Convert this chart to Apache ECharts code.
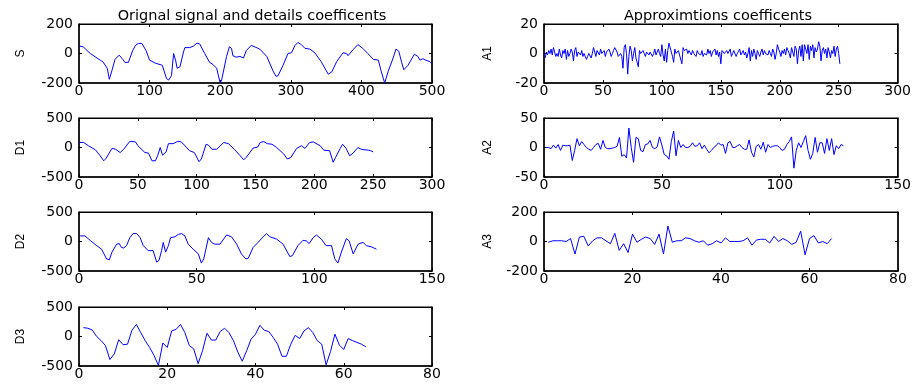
<!DOCTYPE html>
<html><head><meta charset="utf-8">
<script src="https://cdn.jsdelivr.net/npm/echarts@6/dist/echarts.min.js"></script>
<style>html,body{margin:0;padding:0;background:#fff}#c{width:914px;height:384px}</style>
</head><body><div id="c"></div>
<script>
// ---- Data ----
const titleLeft = 'Orignal signal and details coefficents';
const titleRight = 'Approximtions coefficents';
const panelNames = ['S','D1','D2','D3','A1','A2','A3'];
const xMaxes = [500,300,150,80,300,150,80];
const xIntervals = [100,50,50,20,50,50,20];
const yRanges = [[-200,200],[-500,500],[-500,500],[-500,500],[-20,20],[-50,50],[-200,200]];
const yIntervals = [200,500,500,500,20,50,200];

// Original signal S : [sample, value]
const sPts = [[1,50],[6,45],[16,0],[30,-45],[34,-57],[40,-100],[43,-175],[47,-110],[51,-40],[57,-11],[62,-40],[65,-60],[70,-60],[76,20],[80,55],[84,68],[89,68],[95,20],[100,-45],[108,-65],[118,-80],[124,-170],[127,-180],[131,-150],[134,0],[137,-50],[139,-100],[143,-90],[148,10],[150,40],[157,40],[162,50],[167,70],[171,65],[178,0],[185,-60],[190,-75],[195,-100],[200,-200],[202,-180],[209,-20],[213,45],[216,35],[218,-15],[223,-25],[228,-20],[233,-30],[237,20],[244,55],[249,45],[256,30],[266,-20],[275,-120],[279,-155],[282,-150],[289,-80],[296,0],[301,5],[306,55],[310,75],[315,60],[320,35],[327,30],[334,5],[343,-55],[353,-140],[358,-125],[365,-55],[374,5],[379,0],[381,-15],[388,25],[395,60],[402,35],[409,0],[417,-40],[424,-45],[428,-120],[433,-200],[438,-120],[445,-30],[449,30],[453,15],[457,-60],[460,-110],[466,-80],[475,-5],[480,-20],[483,-45],[487,-35],[491,-45],[497,-55],[500,-70]];

// Detail D1 : [sample, value]
const d1Pts = [[0,85],[4,85],[8,30],[14,-40],[18,-140],[21,-225],[23,-185],[28,-15],[31,-30],[35,-85],[38,-30],[43,100],[46,100],[48,95],[50,30],[56,-85],[59,-95],[62,-225],[65,-225],[67,-130],[69,0],[71,-130],[74,-75],[76,65],[80,65],[84,105],[87,95],[94,-55],[98,-85],[102,-240],[104,-195],[108,55],[110,40],[113,-30],[117,-30],[123,85],[127,65],[132,-30],[137,-140],[140,-210],[142,-170],[148,-10],[152,10],[154,85],[157,100],[160,65],[164,55],[168,0],[174,-110],[177,-195],[180,-170],[185,-15],[189,30],[192,-15],[196,85],[199,95],[205,30],[208,-45],[213,-55],[216,-250],[218,-170],[222,-15],[224,55],[227,-15],[230,-140],[233,-95],[237,0],[240,-30],[243,-40],[246,-45],[248,-55],[250,-75]];

// Detail D2 : [sample, value]
const d2Pts = [[0.5,95],[2.5,95],[5,10],[7.5,-70],[9.6,-130],[11.7,-295],[12.9,-310],[14,-180],[16,-45],[17.1,-35],[18,-100],[19,-110],[20.2,-70],[21.6,65],[23,135],[24.5,135],[26,65],[27.3,-70],[29.4,-155],[31.5,-155],[33,-350],[34,-320],[35.1,-155],[35.8,-15],[36.8,-180],[38,-70],[38.9,65],[40.8,80],[42.2,120],[43.6,135],[45,95],[46.4,-45],[48.5,-130],[50.7,-210],[52,-365],[53,-295],[55,65],[56.3,-15],[57.7,-45],[59.9,-45],[62.7,110],[64.8,80],[67,-45],[69,-210],[70.9,-295],[71.9,-285],[74,-100],[76.1,-15],[78.3,80],[79.7,135],[81.1,80],[84,40],[86.7,-45],[89.6,-255],[90.7,-240],[93,-70],[95.2,20],[96.6,10],[97.8,-35],[99.5,65],[100.9,110],[103,40],[105,-70],[107.3,-70],[108.7,-295],[110,-365],[111.5,-180],[113.6,50],[114.8,10],[116.5,-210],[118.6,-45],[120.7,-15],[122.1,-70],[124.2,-90],[126.4,-130]];

// Detail D3 : values at samples 1..65
const d3Vals = [150,140,110,0,-70,-155,-390,-295,-55,-140,-130,105,205,65,-70,-185,-320,-490,-110,-185,95,120,205,65,-155,-210,-460,-240,55,-60,-60,85,140,65,-70,-265,-420,-240,-45,40,190,105,85,-15,-130,-335,-335,-130,20,-35,95,150,65,-70,-130,-480,-255,40,-145,-220,-35,-70,-100,-130,-175];

// Approximation A1 : values at samples 1..251
const a1Vals = [-3,1,-1,2,0,3,-1,4,1,-2, 0,-2,3,-1,-3,2,0,3,-4,2, -2,0,3,1,-5,2,4,-2,1,0, -1,2,-2,0,1,-4,-2,0,1,-3, 0,4,1,-2,2,3,-1,3,0,-1, 2,-2,1,0,3,1,-2,0,2,4, 3,1,-2,-3,0,-2,-10,4,6,0, -14,-2,5,2,-5,0,4,-3,-6,-9, 2,0,-1,2,0,-2,1,2,-1,1, 2,-2,0,3,-1,1,3,0,-2,6, -1,-5,3,-6,2,7,6,1,-2,-6, 3,0,-1,2,-1,0,-7,4,2,1, 3,0,2,1,-1,2,0,1,-2,2, 0,1,-1,2,-2,0,1,-1,3,0, 2,-2,1,0,3,-1,2,-2,1,-7, 2,3,0,-1,2,0,1,3,-2,0, 2,1,-2,0,1,3,-1,0,2,-1, 1,-3,0,4,-5,2,-2,3,0,-4, 2,0,-2,1,3,-1,2,0,1,-1, 2,0,-2,3,1,-4,0,6,3,1, -2,2,0,3,-1,4,2,0,-3,4, 1,-2,5,3,-7,2,5,-2,6,-5, 6,3,0,6,-4,5,2,6,-3,4, 1,3,8,5,-5,2,4,0,3,-3, 4,1,-3,2,0,5,-2,3,5,0, -7];

// Approximation A2 : values at samples 1..127
const a2Vals = [0,0,-2,4,-1,5,-5,4,3,3, 4,-22,-5,15,3,10,5,0,-3,-5, 0,5,7,-3,12,0,-2,-2,-1,0, 2,17,-15,-12,-18,33,0,-25,17,15, -5,-7,5,6,12,0,-2,1,18,4, -12,-14,-20,10,28,-14,12,0,5,0, 0,2,8,2,3,8,-2,4,-3,-9, -5,0,3,8,4,5,-10,8,10,0, 0,3,5,0,-3,-3,13,-8,-16,2, 5,-3,9,-8,5,0,2,3,3,0, -5,-3,5,10,18,-35,-5,8,0,10, 20,-5,-20,-10,17,-8,8,8,-10,15, -5,15,-12,3,-2,5,3];

// Approximation A3 : values at samples 1..65
const a3Vals = [-5,5,5,5,0,20,-85,30,35,-30, 5,25,25,5,-15,55,-60,-15,-75,50, -5,15,30,20,-20,50,-85,105,-5,5, 5,25,20,5,-5,5,-25,-15,5,-10, 25,0,0,0,5,25,-25,10,15,15, -10,35,0,20,5,-20,-5,70,-90,20, 40,-10,0,-15,20];

// ---- Build the chart ----
const toPts = v => v.map((y,i) => [i+1, y]);
const seriesData = [sPts, d1Pts, d2Pts, toPts(d3Vals), toPts(a1Vals), toPts(a2Vals), toPts(a3Vals)];

const TICKFONT = 'DejaVu Sans';
const NAMEFONT = 'Liberation Sans';
const rowTops = [24,118,212,307];
const grids = [], xAxes = [], yAxes = [], series = [];
const lineOf = w => ({show:true, onZero:false, lineStyle:{color:'#000', width:w}});
const ticks = {show:true, inside:true, length:3, lineStyle:{color:'#000', width:1}};
panelNames.forEach((name, i) => {
  const col = i < 4 ? 0 : 1;
  const row = i < 4 ? i : i - 4;
  grids.push({show:true, borderColor:'#000', borderWidth:1, backgroundColor:'transparent',
    left: col ? 544 : 79, width: col ? 354 : 353, top: rowTops[row], height: 59});
  const xc = {type:'value', gridIndex: i, min: 0, max: xMaxes[i], interval: xIntervals[i], splitLine:{show:false}};
  xAxes.push(Object.assign({}, xc, {position:'bottom', axisLine: lineOf(1.5), axisTick: ticks,
    axisLabel:{color:'#000', fontFamily:TICKFONT, fontSize:14, margin:1}}));
  xAxes.push(Object.assign({}, xc, {position:'top', axisLine: lineOf(1), axisTick: ticks,
    axisLabel:{show:false}}));
  const yc = {type:'value', gridIndex: i, min: yRanges[i][0], max: yRanges[i][1], interval: yIntervals[i], splitLine:{show:false}};
  yAxes.push(Object.assign({}, yc, {position:'left', name: name, nameLocation:'middle', nameGap: col ? 50 : 52,
    nameTextStyle:{color:'#000', fontFamily:NAMEFONT, fontSize:12},
    axisLine: lineOf(1.5), axisTick: ticks,
    axisLabel:{color:'#000', fontFamily:TICKFONT, fontSize:14, margin:6}}));
  yAxes.push(Object.assign({}, yc, {position:'right', axisLine: lineOf(1.5), axisTick: ticks,
    axisLabel:{show:false}}));
  series.push({type:'line', xAxisIndex: 2*i, yAxisIndex: 2*i, data: seriesData[i],
    showSymbol:false, symbol:'none', lineStyle:{color:'#0000ff', width:1}, animation:false});
  // same samples on the mirrored (top/right) axes, invisible, so those axes are drawn
  series.push({type:'line', xAxisIndex: 2*i+1, yAxisIndex: 2*i+1, data: seriesData[i],
    showSymbol:false, symbol:'none', lineStyle:{opacity:0}, silent:true, animation:false});
});

const chart = echarts.init(document.getElementById('c'), null, {renderer:'canvas'});
chart.setOption({
  backgroundColor:'#fff',
  animation:false,
  title:[
    {text:titleLeft, left:247, top:4, textAlign:'center', textStyle:{fontFamily:TICKFONT, fontSize:14.5, fontWeight:'normal', color:'#000'}},
    {text:titleRight, left:713, top:4, textAlign:'center', textStyle:{fontFamily:TICKFONT, fontSize:14.5, fontWeight:'normal', color:'#000'}}
  ],
  grid: grids, xAxis: xAxes, yAxis: yAxes, series: series
});
</script></body></html>
